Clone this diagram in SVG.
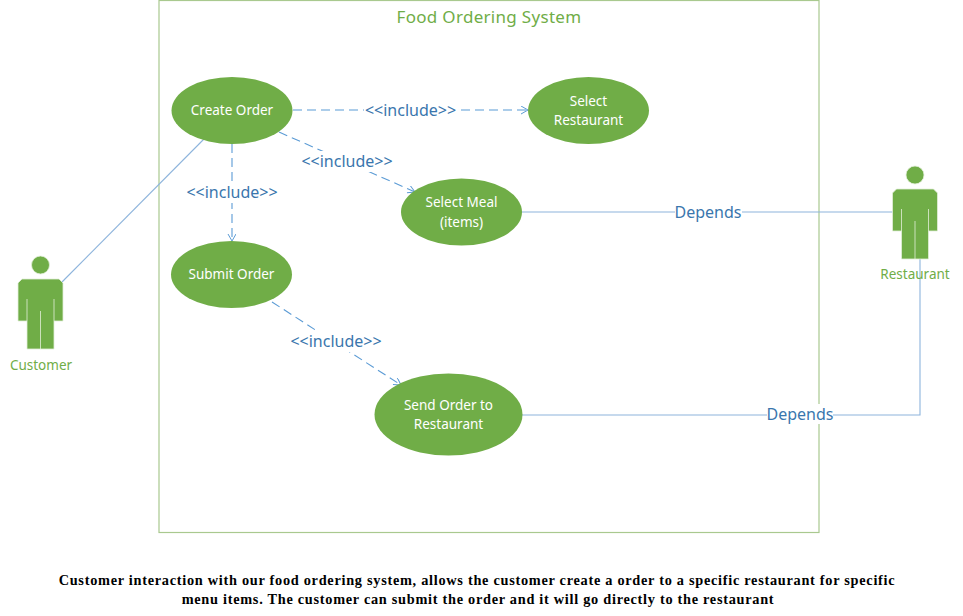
<svg xmlns="http://www.w3.org/2000/svg" width="963" height="616" viewBox="0 0 963 616">
<style>
.sys{fill:#fff;stroke:#a9c98f;stroke-width:1.2}
.uc{fill:#70ad47}
.ut{fill:#fff;font:13.5px "Noto Sans","Open Sans",sans-serif;text-anchor:middle}
.act{fill:#70ad47;stroke:#e2efd9;stroke-width:.8}
.al{fill:#70ad47;font:13.5px "Noto Sans","Open Sans",sans-serif;text-anchor:middle}
.line{fill:none;stroke:#8db4dc;stroke-width:1.1}
.dash{fill:none;stroke:#5b9bd5;stroke-width:1.1;stroke-dasharray:9 5}
.head{fill:none;stroke:#5b9bd5;stroke-width:1}
.cl{fill:#3a76ad;font:16px "Noto Sans","Open Sans",sans-serif;text-anchor:middle}
.bg{fill:#fff}
.cap{fill:#000;font:bold 14.3px "Liberation Serif",serif;text-anchor:middle;letter-spacing:.72px}
</style>
<defs>
<marker id="arr" markerWidth="10" markerHeight="10" refX="8" refY="4" orient="auto" markerUnits="userSpaceOnUse"><path d="M1 0L8 4L1 8" class="head"/></marker>
<g id="person"><circle cx="22.5" cy="-14" r="9"/><path d="M4 0H41L45 4V42H36V70H9V42H0V4Z"/><path d="M9 20V42M36 20V42M22.5 32V70" fill="none"/></g>
</defs>
<g id="system"><rect class="sys" x="159" y="0.5" width="660" height="532"/><text x="489" y="23" text-anchor="middle" style="font:17px 'Noto Sans','Open Sans',sans-serif;letter-spacing:.3px;fill:#70ad47">Food Ordering System</text></g>
<g id="connectors">
<path class="line" d="M61 283L204 139"/>
<path class="line" d="M522 212H893"/>
<path class="line" d="M522 415H920V259"/>
<path class="dash" marker-end="url(#arr)" d="M293 110H528"/>
<path class="dash" marker-end="url(#arr)" d="M279 132L415 192"/>
<path class="dash" marker-end="url(#arr)" d="M232 144V241"/>
<path class="dash" marker-end="url(#arr)" d="M272 302L401 385"/>
</g>
<g id="labels">
<rect class="bg" x="364" y="100" width="93" height="20"/><text class="cl" x="410.500" y="116">&lt;&lt;include&gt;&gt;</text>
<rect class="bg" x="301" y="151" width="92" height="21"/><text class="cl" x="347" y="167">&lt;&lt;include&gt;&gt;</text>
<rect class="bg" x="186" y="182" width="92" height="21"/><text class="cl" x="232" y="198">&lt;&lt;include&gt;&gt;</text>
<rect class="bg" x="290" y="331" width="92" height="21"/><text class="cl" x="336" y="347">&lt;&lt;include&gt;&gt;</text>
<rect class="bg" x="675" y="202" width="67" height="20"/><text class="cl" x="708" y="218">Depends</text>
<rect class="bg" x="767" y="404" width="66" height="20"/><text class="cl" x="800" y="420">Depends</text>
</g>
<g id="create-order"><ellipse class="uc" cx="232" cy="110.500" rx="60.500" ry="33.500"/><text class="ut" x="232" y="115">Create Order</text></g>
<g id="select-restaurant"><ellipse class="uc" cx="588.500" cy="110.500" rx="60.500" ry="33.500"/><text class="ut" x="588.500" y="105.500">Select</text><text class="ut" x="588.500" y="125">Restaurant</text></g>
<g id="select-meal"><ellipse class="uc" cx="461.500" cy="212" rx="60.500" ry="33.500"/><text class="ut" x="461.500" y="207">Select Meal</text><text class="ut" x="461.500" y="226.500">(items)</text></g>
<g id="submit-order"><ellipse class="uc" cx="231.500" cy="274.500" rx="60.500" ry="33.500"/><text class="ut" x="231.500" y="279">Submit Order</text></g>
<g id="send-order"><ellipse class="uc" cx="448.500" cy="414.500" rx="74" ry="41"/><text class="ut" x="448.500" y="409.500">Send Order to</text><text class="ut" x="448.500" y="429">Restaurant</text></g>
<g id="customer"><use href="#person" class="act" x="18" y="279"/><text class="al" x="41" y="370">Customer</text></g>
<g id="restaurant"><use href="#person" class="act" x="892.500" y="189"/><text class="al" x="915" y="279">Restaurant</text></g>
<g id="caption"><text class="cap" x="477" y="585">Customer interaction with our food ordering system, allows the customer create a order to a specific restaurant for specific</text><text class="cap" x="478" y="604">menu items. The customer can submit the order and it will go directly to the restaurant</text></g>
</svg>
